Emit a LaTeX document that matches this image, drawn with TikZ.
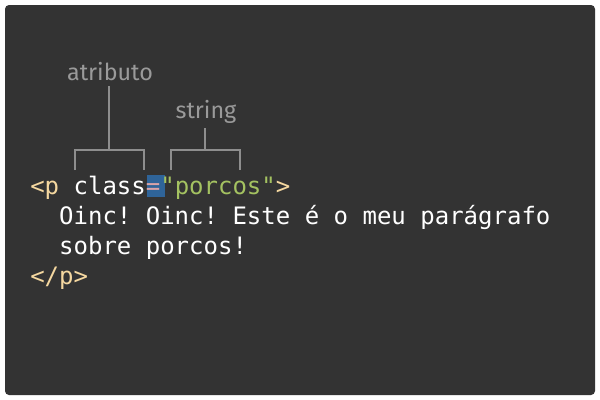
\documentclass[tikz,border=0pt]{standalone}
\usepackage{fontspec}
\setmainfont{Fira Sans}
\setmonofont{DejaVu Sans Mono}
\definecolor{bgdark}{HTML}{333333}
\definecolor{tagcol}{HTML}{F5D8A0}
\definecolor{strcol}{HTML}{A4C261}
\definecolor{eqbox}{HTML}{2F6499}
\definecolor{eqcol}{HTML}{D9A3A8}
\definecolor{labcol}{HTML}{9A9A9A}
\definecolor{linecol}{HTML}{8E8E8E}
\tikzset{
  code/.style={anchor=base west, inner sep=0pt, font=\ttfamily\fontsize{18pt}{22pt}\selectfont, text=white},
  lab/.style={anchor=base, inner sep=0pt, font=\fontsize{17.5pt}{21pt}\selectfont, text=labcol},
  brk/.style={draw=linecol, line width=1.5pt}
}
\begin{document}
\begin{tikzpicture}[x=0.75pt,y=-0.75pt]
\useasboundingbox (0,0) rectangle (600,400);
\fill[white] (0,0) rectangle (600,400);
\fill[bgdark, rounded corners=3pt] (5,5) rectangle (595,395);
% highlight behind '='
\fill[eqbox] (147,175) rectangle (165,197);
\node[code] (l1) at (30,194.5) {\textcolor{tagcol}{<p} class\textcolor{eqcol}{=}\textcolor{strcol}{"porcos"}\textcolor{tagcol}{>}};
\node[code] (l2) at (30,224.5) {\ \ Oinc! Oinc! Este é o meu parágrafo};
\node[code] (l3) at (30,254.5) {\ \ sobre porcos!};
\node[code] (l4) at (30,284.5) {\textcolor{tagcol}{</p>}};
% brackets
\draw[brk] (75,170) -- (75,150) -- (144,150) -- (144,170);
\draw[brk] (108.5,150) -- (108.5,86);
\draw[brk] (171,170) -- (171,150) -- (240,150) -- (240,170);
\draw[brk] (204.5,150) -- (204.5,128);
\node[lab] (atr) at (110,80) {atributo};
\node[lab] (str) at (206,118.5) {string};
\end{tikzpicture}
\end{document}
